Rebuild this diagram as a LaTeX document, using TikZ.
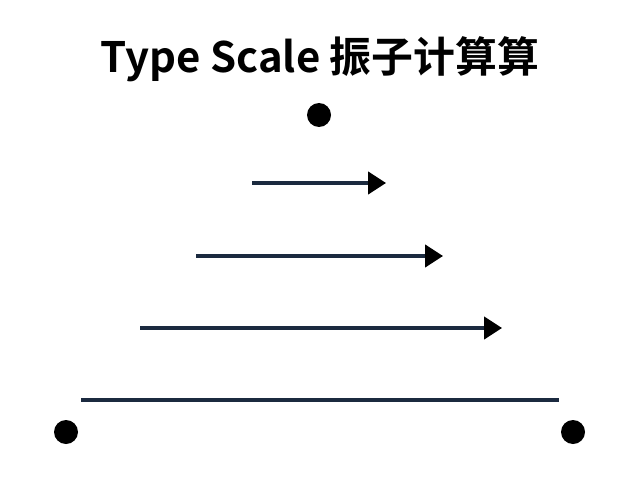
\documentclass[tikz,border=0pt]{standalone}
\usepackage{fontspec}
\newfontfamily\cjk{Noto Sans CJK SC}[BoldFont={Noto Sans CJK SC Bold}]
\usetikzlibrary{arrows.meta}
\definecolor{navy}{HTML}{1B2A3F}

\begin{document}
\begin{tikzpicture}[>={Triangle[length=0.45cm,width=0.56cm,color=black]}]
\useasboundingbox (0,0) rectangle (16,12);
\tikzset{dot/.style={circle,fill=black,inner sep=0pt,minimum size=0.6cm},
  scale line/.style={draw=navy,line width=2.3pt}}

\node[font=\cjk\bfseries\fontsize{29.8}{34}\selectfont](title) at (8,10.52) {Type Scale 振子计算算};

\node[dot](top) at (7.975,9.125) {};
\node[dot](left) at (1.65,1.2) {};
\node[dot](right) at (14.325,1.2) {};

\coordinate (a1) at (6.3,7.425);   \coordinate (b1) at (9.65,7.425);
\coordinate (a2) at (4.9,5.6);     \coordinate (b2) at (11.075,5.6);
\coordinate (a3) at (3.5,3.8);     \coordinate (b3) at (12.55,3.8);
\coordinate (a4) at (2.025,2.0);   \coordinate (b4) at (13.975,2.0);

\draw[scale line,->] (a1) -- (b1);
\draw[scale line,->] (a2) -- (b2);
\draw[scale line,->] (a3) -- (b3);
\draw[scale line] (a4) -- (b4);
\end{tikzpicture}
\end{document}
